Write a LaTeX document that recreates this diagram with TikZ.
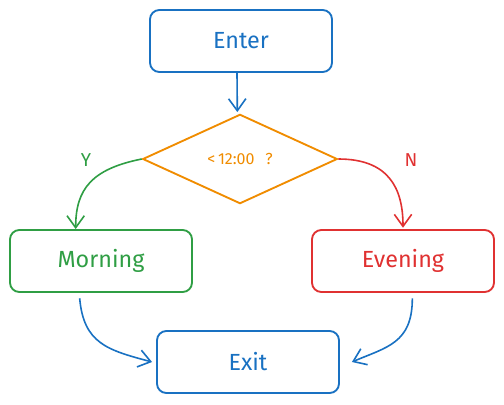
\documentclass[tikz,border=0pt]{standalone}
\usepackage{fontspec}
\setmainfont{Fira Sans}
\usetikzlibrary{shapes.geometric,arrows.meta,calc}
\definecolor{cblue}{HTML}{1971C2}
\definecolor{corange}{HTML}{F08C00}
\definecolor{cgreen}{HTML}{2F9E44}
\definecolor{cred}{HTML}{E03131}
\begin{document}
\begin{tikzpicture}[x=0.75pt,y=-0.75pt,
  box/.style={draw=#1,text=#1,line width=1.4pt,rounded corners=7pt,minimum width=136.5pt,minimum height=46.5pt,inner sep=0pt,font=\fontsize{17.5}{20}\selectfont},
  conn/.style={draw=#1,line width=1.2pt,-{Straight Barb[length=9pt,width=13pt,line width=1.2pt]}},
  lbl/.style={text=#1,font=\fontsize{14}{16}\selectfont,inner sep=0pt}]
\useasboundingbox (0,0) rectangle (504,404);
\node[box=cblue] (enter) at (241,41) {Enter};
\node[draw=corange,text=corange,line width=1.4pt,diamond,aspect=2.19,minimum width=146pt,minimum height=67pt,inner sep=0pt,font=\fontsize{12}{14}\selectfont] (dec) at (240,159) {<\,12:00\enspace\,?};
\node[box=cgreen] (morning) at (101,261) {Morning};
\node[box=cred] (evening) at (403,261) {Evening};
\node[box=cblue] (exit) at (248,362) {Exit};
\node[lbl=cgreen] (ylab) at (86,160) {Y};
\node[lbl=cred] (nlab) at (411,160) {N};
\draw[conn=cblue] ([xshift=-3pt]enter.south) -- ([xshift=-2pt,yshift=1pt]dec.north);
\draw[conn=cgreen] (dec.west) .. controls +(-50,10) and +(0,-40) .. ([xshift=-19pt]morning.north);
\draw[conn=cred] (dec.east) .. controls +(50,0) and +(0,-40) .. ([yshift=1pt]evening.north);
\draw[conn=cblue] ([xshift=-16pt,yshift=-4pt]morning.south) .. controls +(4,45) and +(-45,-12) .. ([xshift=-3pt]exit.west);
\draw[conn=cblue] ([xshift=7pt,yshift=-4pt]evening.south) .. controls +(0,45) and +(35,-15) .. ([xshift=9pt]exit.east);
\end{tikzpicture}
\end{document}
